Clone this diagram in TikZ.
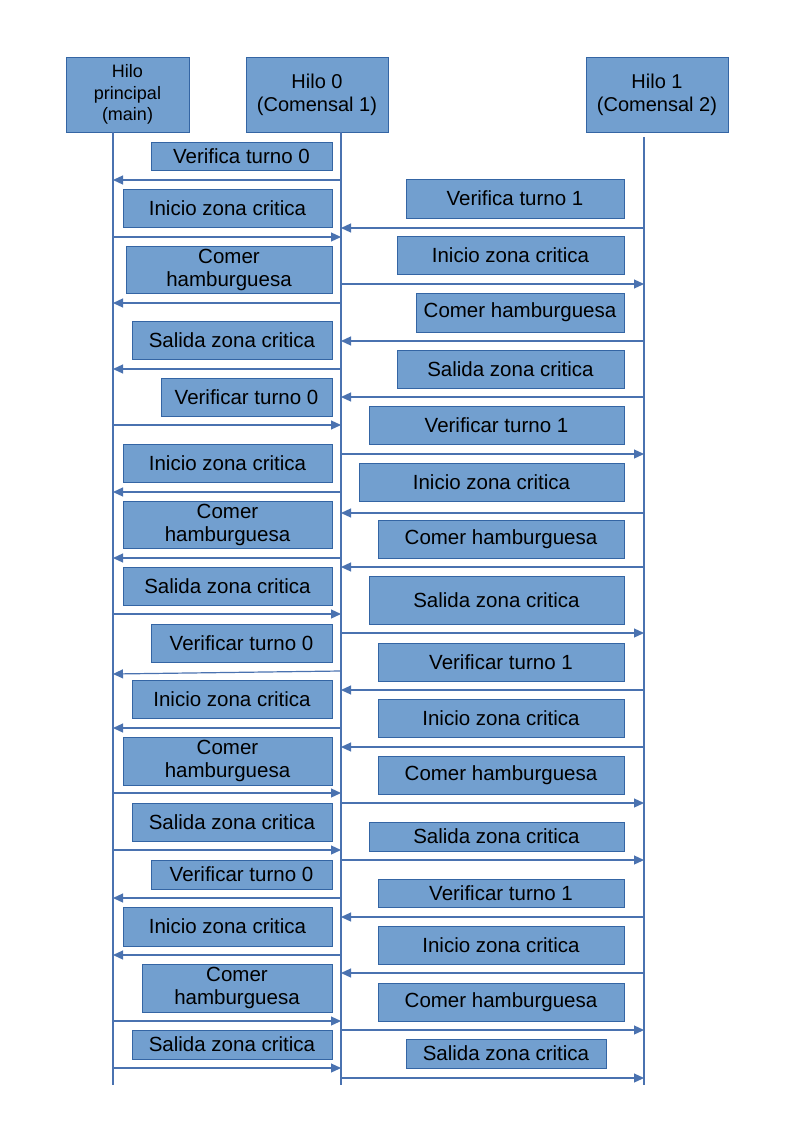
\documentclass[tikz,border=0pt]{standalone}
\usepackage{fontspec}
\setmainfont{Liberation Sans}
\usetikzlibrary{arrows.meta}
\definecolor{boxfill}{HTML}{729FCF}
\definecolor{boxline}{HTML}{3465A4}
\definecolor{wire}{HTML}{4A72B0}
\newcommand\bx[6]{\node[box,minimum width={(#4-#2)*1pt},minimum height={(#5-#3)*1pt}] (#1) at ({(#2+#4)/2},{(#3+#5)/2}) {#6};}
\newcommand\msgto[3]{\draw[msg] (#1 |- 0,#3) -- (#2 |- 0,#3);}
\begin{document}
\begin{tikzpicture}[x=1pt,y=-1pt,
  box/.style={draw=boxline,fill=boxfill,line width=0.8pt,inner sep=0pt,align=center,font=\fontsize{20.5}{23}\selectfont,text=black},
  head/.style={box,font=\fontsize{20}{23}\selectfont},
  msg/.style={draw=wire,line width=1.2pt,-{Triangle[length=10pt,width=9pt]}},
  life/.style={draw=wire,line width=1.1pt}]
\useasboundingbox (0,0) rectangle (794,1123);
% headers
\node[head,minimum width=123pt,minimum height=75pt,font=\fontsize{18}{21.5}\selectfont] (hm) at (127.5,94.5) {Hilo\\principal\\(main)};
\node[head,minimum width=142pt,minimum height=75pt] (h0) at (317,94.5) {Hilo 0\\(Comensal 1)};
\node[head,minimum width=142pt,minimum height=75pt] (h1) at (657,94.5) {Hilo 1\\(Comensal 2)};
% lifelines
\coordinate (Lm) at (113,132);
\coordinate (L0) at (341,132);
\coordinate (L1) at (644,137);
\coordinate (Em) at (113,1085);
\coordinate (E0) at (341,1085);
\coordinate (E1) at (644,1085);
\draw[life] (Lm) -- (Em);
\draw[life] (L0) -- (E0);
\draw[life] (L1) -- (E1);
% left column boxes
\bx{l1}{151}{142}{332}{170}{Verifica turno 0}
\bx{l2}{123}{189}{332}{227}{Inicio zona critica}
\bx{l3}{126}{246}{332}{293}{Comer\\hamburguesa}
\bx{l4}{132}{321}{332}{359}{Salida zona critica}
\bx{l5}{161}{378}{332}{416}{Verificar turno 0}
\bx{l6}{123}{444}{332}{482}{Inicio zona critica}
\bx{l7}{123}{501}{332}{548}{Comer\\hamburguesa}
\bx{l8}{123}{567}{332}{605}{Salida zona critica}
\bx{l9}{151}{624}{332}{662}{Verificar turno 0}
\bx{l10}{132}{680}{332}{718}{Inicio zona critica}
\bx{l11}{123}{737}{332}{785}{Comer\\hamburguesa}
\bx{l12}{132}{803}{332}{841}{Salida zona critica}
\bx{l13}{151}{860}{332}{889}{Verificar turno 0}
\bx{l14}{123}{907}{332}{946}{Inicio zona critica}
\bx{l15}{142}{964}{332}{1012}{Comer\\hamburguesa}
\bx{l16}{132}{1030}{332}{1059}{Salida zona critica}
% right column boxes
\bx{r1}{406}{179}{624}{218}{Verifica turno 1}
\bx{r2}{397}{236}{624}{274}{Inicio zona critica}
\bx{r3}{416}{293}{624}{332}{Comer hamburguesa}
\bx{r4}{397}{350}{624}{388}{Salida zona critica}
\bx{r5}{369}{406}{624}{444}{Verificar turno 1}
\bx{r6}{359}{463}{624}{501}{Inicio zona critica}
\bx{r7}{378}{520}{624}{558}{Comer hamburguesa}
\bx{r8}{369}{576}{624}{624}{Salida zona critica}
\bx{r9}{378}{643}{624}{681}{Verificar turno 1}
\bx{r10}{378}{699}{624}{737}{Inicio zona critica}
\bx{r11}{378}{756}{624}{794}{Comer hamburguesa}
\bx{r12}{369}{822}{624}{851}{Salida zona critica}
\bx{r13}{378}{879}{624}{907}{Verificar turno 1}
\bx{r14}{378}{926}{624}{964}{Inicio zona critica}
\bx{r15}{378}{983}{624}{1021}{Comer hamburguesa}
\bx{r16}{406}{1039}{606}{1068}{Salida zona critica}
% left column messages
\msgto{L0}{Lm}{180}
\msgto{Lm}{L0}{237}
\msgto{L0}{Lm}{303}
\msgto{L0}{Lm}{369}
\msgto{Lm}{L0}{425}
\msgto{L0}{Lm}{492}
\msgto{L0}{Lm}{558}
\msgto{Lm}{L0}{614}
\draw[msg] (L0 |- 0,671) -- (Lm |- 0,674);
\msgto{L0}{Lm}{728}
\msgto{Lm}{L0}{793}
\msgto{Lm}{L0}{850}
\msgto{L0}{Lm}{898}
\msgto{L0}{Lm}{955}
\msgto{Lm}{L0}{1021}
\msgto{Lm}{L0}{1068}
% right column messages
\msgto{L1}{L0}{228}
\msgto{L0}{L1}{284}
\msgto{L1}{L0}{341}
\msgto{L1}{L0}{397}
\msgto{L0}{L1}{454}
\msgto{L1}{L0}{513}
\msgto{L1}{L0}{567}
\msgto{L0}{L1}{633}
\msgto{L1}{L0}{690}
\msgto{L1}{L0}{747}
\msgto{L0}{L1}{803}
\msgto{L0}{L1}{860}
\msgto{L1}{L0}{917}
\msgto{L1}{L0}{973}
\msgto{L0}{L1}{1030}
\msgto{L0}{L1}{1078}
\end{tikzpicture}
\end{document}
